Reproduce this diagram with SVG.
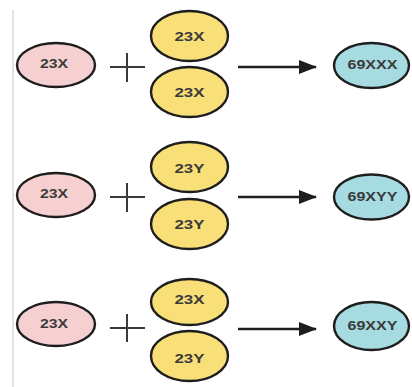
<svg xmlns="http://www.w3.org/2000/svg" width="412" height="387" viewBox="0 0 412 387">
<defs>
<style>
.pink{fill:#f6d0d0;stroke:#1e1e1e;stroke-width:2.4}
.yel{fill:#f8df78;stroke:#1e1e1e;stroke-width:2.4}
.blue{fill:#a6dbe2;stroke:#1e1e1e;stroke-width:2.4}
.t{font-family:"Liberation Sans",Arial,sans-serif;font-size:12.5px;font-weight:bold;fill:#3a3a3a;text-anchor:middle;dominant-baseline:central}
.plus{stroke:#3a3a3a;stroke-width:2;fill:none}
.conn{stroke:#1e1e1e;stroke-width:2.4;fill:none}
</style>
<marker id="ah" markerWidth="18" markerHeight="14" refX="17" refY="7" orient="auto" markerUnits="userSpaceOnUse" viewBox="0 0 18 14">
<path d="M0,0 L18,7 L0,14 Z" fill="#1e1e1e"/>
</marker>
</defs>
<rect width="412" height="387" fill="#fff"/>
<line x1="13" y1="10" x2="13" y2="387" stroke="#d8d8d8" stroke-width="1.5"/>

<g id="row1">
<g id="p1"><ellipse class="pink" cx="56" cy="65" rx="39" ry="22"/><text class="t" x="54" y="64" textLength="28" lengthAdjust="spacingAndGlyphs">23X</text></g>
<g id="plus1"><path class="plus" d="M110 67H145M127 53V82"/></g>
<g id="y1a"><ellipse class="yel" cx="189.5" cy="36" rx="38.5" ry="25"/><text class="t" x="189.5" y="37" textLength="30" lengthAdjust="spacingAndGlyphs">23X</text></g>
<g id="y1b"><ellipse class="yel" cx="189.5" cy="92" rx="38.5" ry="25"/><text class="t" x="189.5" y="93" textLength="30" lengthAdjust="spacingAndGlyphs">23X</text></g>
<g id="b1"><ellipse class="blue" cx="371.5" cy="65.5" rx="37.5" ry="22.5"/><text class="t" x="372.5" y="65" textLength="50" lengthAdjust="spacingAndGlyphs">69XXX</text></g>
</g>

<g id="row2">
<g id="p2"><ellipse class="pink" cx="56" cy="195" rx="39" ry="22"/><text class="t" x="54" y="194" textLength="28" lengthAdjust="spacingAndGlyphs">23X</text></g>
<g id="plus2"><path class="plus" d="M110 197H145M127 183V212"/></g>
<g id="y2a"><ellipse class="yel" cx="189.5" cy="167" rx="38.5" ry="25"/><text class="t" x="189.5" y="169" textLength="30" lengthAdjust="spacingAndGlyphs">23Y</text></g>
<g id="y2b"><ellipse class="yel" cx="189.5" cy="224" rx="38.5" ry="25"/><text class="t" x="189.5" y="225" textLength="30" lengthAdjust="spacingAndGlyphs">23Y</text></g>
<g id="b2"><ellipse class="blue" cx="371.5" cy="197" rx="37.5" ry="22.5"/><text class="t" x="372.5" y="197" textLength="50" lengthAdjust="spacingAndGlyphs">69XYY</text></g>
</g>

<g id="row3">
<g id="p3"><ellipse class="pink" cx="56" cy="324" rx="39" ry="22"/><text class="t" x="54" y="324" textLength="28" lengthAdjust="spacingAndGlyphs">23X</text></g>
<g id="plus3"><path class="plus" d="M110 328H145M127 314V342"/></g>
<g id="y3a"><ellipse class="yel" cx="189.5" cy="302" rx="38.5" ry="23"/><text class="t" x="189.5" y="300" textLength="30" lengthAdjust="spacingAndGlyphs">23X</text></g>
<g id="y3b"><ellipse class="yel" cx="189.5" cy="356" rx="38.5" ry="25"/><text class="t" x="189.5" y="359" textLength="30" lengthAdjust="spacingAndGlyphs">23Y</text></g>
<g id="b3"><ellipse class="blue" cx="371.5" cy="326" rx="37.5" ry="24"/><text class="t" x="372.5" y="326" textLength="50" lengthAdjust="spacingAndGlyphs">69XXY</text></g>
</g>

<g id="connectors">
<line class="conn" x1="238" y1="67" x2="316" y2="67" marker-end="url(#ah)"/>
<line class="conn" x1="238" y1="197" x2="316" y2="197" marker-end="url(#ah)"/>
<line class="conn" x1="238" y1="329" x2="316" y2="329" marker-end="url(#ah)"/>
</g>
</svg>
